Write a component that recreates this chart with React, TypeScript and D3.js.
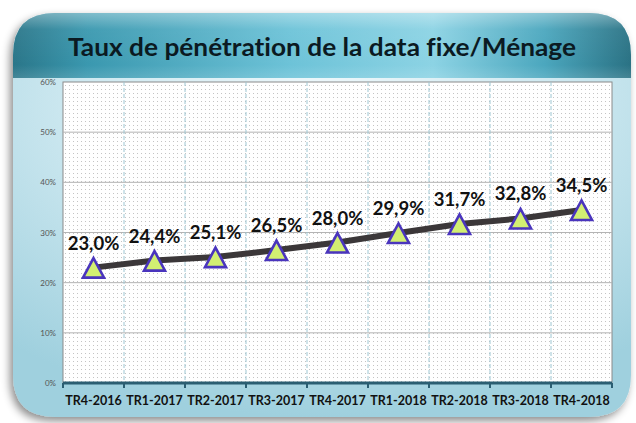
import React from "react";
import * as d3 from "d3";

const categories = ["TR4-2016", "TR1-2017", "TR2-2017", "TR3-2017", "TR4-2017", "TR1-2018", "TR2-2018", "TR3-2018", "TR4-2018"];
const values = [23.0, 24.4, 25.1, 26.5, 28.0, 29.9, 31.7, 32.8, 34.5];
const yTicks = [0, 10, 20, 30, 40, 50, 60];
const title = "Taux de pénétration de la data fixe/Ménage";

const W = 636, H = 423;
const plot = { l: 63, r: 612, t: 82, b: 383 };

export default function App() {
  const x = d3.scaleBand<string>().domain(categories).range([plot.l, plot.r]).padding(0);
  const y = d3.scaleLinear().domain([0, 60]).range([plot.b, plot.t]);
  const cx = (c: string) => (x(c) as number) + x.bandwidth() / 2;
  const line = d3.line<number>().x((_, i) => cx(categories[i])).y((v) => y(v));
  const fmt = (v: number) => v.toFixed(1).replace(".", ",") + "%";
  const boundaries = d3.range(categories.length + 1).map((i) => plot.l + i * x.bandwidth());

  const cardL = 13, cardT = 13, cardR = 631, cardB = 417, rad = 42, headB = 78;
  const cardPath = `M${cardL},${cardT + rad} Q${cardL},${cardT} ${cardL + rad},${cardT} L${cardR - rad},${cardT} Q${cardR},${cardT} ${cardR},${cardT + rad} L${cardR},${cardB - rad} Q${cardR},${cardB} ${cardR - rad},${cardB} L${cardL + rad},${cardB} Q${cardL},${cardB} ${cardL},${cardB - rad} Z`;
  const headPath = `M${cardL},${headB} L${cardL},${cardT + rad} Q${cardL},${cardT} ${cardL + rad},${cardT} L${cardR - rad},${cardT} Q${cardR},${cardT} ${cardR},${cardT + rad} L${cardR},${headB} Z`;

  return (
    <svg width={W} height={H} style={{ position: "absolute", left: 0, top: 0 }} xmlns="http://www.w3.org/2000/svg">
      <defs>
        <filter id="sh" x="-10%" y="-10%" width="120%" height="125%">
          <feDropShadow dx={-3} dy={4} stdDeviation={4} floodColor="#000" floodOpacity={0.45} />
        </filter>
        <radialGradient id="body" cx="0.5" cy="0.2" r="0.8">
          <stop offset="0" stopColor="#eef8fb" />
          <stop offset="0.5" stopColor="#cde8f0" />
          <stop offset="1" stopColor="#9fd0de" />
        </radialGradient>
        <linearGradient id="head" x1="0" x2="1" y1="0" y2="0">
          <stop offset="0" stopColor="#2a7689" />
          <stop offset="0.12" stopColor="#3a98af" />
          <stop offset="0.45" stopColor="#6dc3d8" />
          <stop offset="0.68" stopColor="#8cd3e4" />
          <stop offset="0.86" stopColor="#4ba7be" />
          <stop offset="1" stopColor="#2a7284" />
        </linearGradient>
        <linearGradient id="headHi" x1="0" x2="0" y1="0" y2="1">
          <stop offset="0" stopColor="#ffffff" stopOpacity={0.35} />
          <stop offset="0.25" stopColor="#ffffff" stopOpacity={0.05} />
          <stop offset="0.8" stopColor="#ffffff" stopOpacity={0} />
          <stop offset="1" stopColor="#ffffff" stopOpacity={0.12} />
        </linearGradient>
        <pattern id="dots" width={4} height={4} patternUnits="userSpaceOnUse">
          <rect width={4} height={4} fill="#ffffff" />
          <rect x={1} y={1} width={1} height={1} fill="#c4c4c4" />
        </pattern>
      </defs>

      <rect width={W} height={H} fill="#ffffff" />
      <path d={cardPath} fill="url(#body)" filter="url(#sh)" />
      <path d={headPath} fill="url(#head)" />
      <path d={headPath} fill="url(#headHi)" />
      <text x={(cardL + cardR) / 2} y={56} textAnchor="middle" fontFamily="Lato, 'Open Sans', sans-serif" fontWeight={700} fontSize={24} fill="#0b1a22" textLength={508} lengthAdjust="spacingAndGlyphs" style={{ fontVariantLigatures: "none" }}>
        {title}
      </text>

      {/* plot area */}
      <rect x={plot.l} y={plot.t} width={plot.r - plot.l} height={plot.b - plot.t} fill="url(#dots)" stroke="#8a8a8a" strokeWidth={1} />
      {yTicks.filter((t) => t > 0 && t < 60).map((t) => (
        <line key={t} x1={plot.l} x2={plot.r} y1={y(t)} y2={y(t)} stroke="#b4b4b4" strokeWidth={1} />
      ))}
      {boundaries.slice(1, -1).map((bx, i) => (
        <line key={i} x1={bx} x2={bx} y1={plot.t} y2={plot.b} stroke="#9ec6d2" strokeWidth={1} strokeDasharray="4,2" />
      ))}
      {yTicks.map((t) => (
        <text key={t} x={56} y={y(t) + 3} textAnchor="end" fontFamily="Lato, sans-serif" fontSize={8} fill="#555">
          {t + "%"}
        </text>
      ))}
      {/* x axis */}
      <line x1={plot.l} x2={plot.r} y1={plot.b} y2={plot.b} stroke="#2b5e72" strokeWidth={3} />
      {boundaries.map((bx, i) => (
        <line key={i} x1={bx} x2={bx} y1={plot.b} y2={plot.b + 5} stroke="#2b5e72" strokeWidth={2} />
      ))}
      {categories.map((c) => (
        <text key={c} x={cx(c)} y={405} textAnchor="middle" fontFamily="Lato, sans-serif" fontWeight={700} fontSize={12.5} fill="#111">
          {c}
        </text>
      ))}

      {/* series */}
      <path d={line(values) || ""} fill="none" stroke="#3b3739" strokeWidth={6} strokeLinejoin="round" />
      {values.map((v, i) => {
        const px = cx(categories[i]);
        const py = y(v);
        return (
          <g key={i}>
            <path d={`M${px},${py - 9.5} L${px + 10.5},${py + 10} L${px - 10.5},${py + 10} Z`} fill="#d2ef72" stroke="#4a35bd" strokeWidth={2.6} strokeLinejoin="miter" />
            <text x={px} y={py - 18} textAnchor="middle" fontFamily="Lato, sans-serif" fontWeight={700} fontSize={18.5} fill="#111">
              {fmt(v)}
            </text>
          </g>
        );
      })}
    </svg>
  );
}
